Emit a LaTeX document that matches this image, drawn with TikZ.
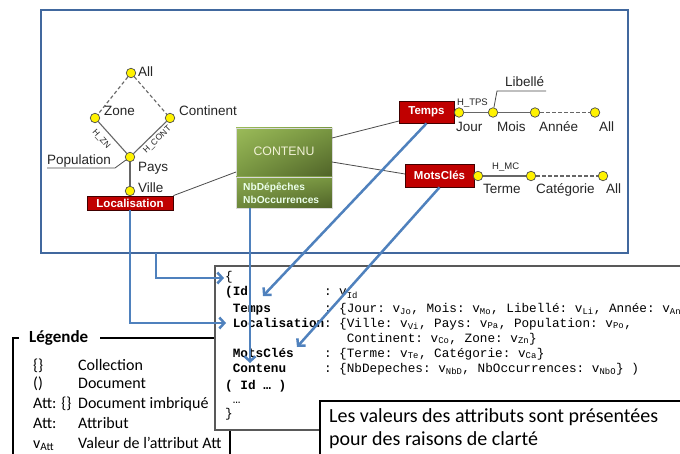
\documentclass[tikz,border=0pt]{standalone}
\usepackage{fontspec}
\setmainfont{Liberation Sans}
\setmonofont{Liberation Mono}
\newfontfamily\calib{Carlito}
\usetikzlibrary{arrows.meta,calc,shadings}
\definecolor{frameblue}{RGB}{65,104,158}
\definecolor{arrowblue}{RGB}{79,129,189}
\definecolor{boxred}{RGB}{192,0,0}
\definecolor{gA}{RGB}{155,187,89}
\definecolor{gB}{RGB}{120,150,65}
\definecolor{gC}{RGB}{79,98,40}
\newcommand\fs[1]{\fontsize{#1}{#1}\selectfont}
\newcommand\vv[1]{v\textsubscript{#1}}
\begin{document}
\begin{tikzpicture}[x=1pt,y=-1pt,
  dimbox/.style={draw=black!75!red, line width=0.8pt, fill=boxred, text=white, font=\fs{11.5}\bfseries, inner sep=0pt},
  lvl/.style={circle, draw=black!70, fill=yellow, minimum size=9.5pt, inner sep=0pt, line width=0.7pt},
  lbl/.style={font=\fs{13.5}, inner sep=0pt, anchor=base west, text=black!85},
  hier/.style={draw=black!60, line width=1.1pt},
  hdash/.style={hier, dash pattern=on 3.5pt off 2.5pt},
  tinylbl/.style={font=\fs{9.5}, inner sep=0pt, text=black!85},
  rotlbl/.style={font=\fs{8.5}, inner sep=0pt, text=black!85},
  arr/.style={draw=arrowblue, line width=2.5pt, -{Straight Barb[length=5pt,width=11pt]}},
  conn/.style={draw=black!70, line width=0.8pt},
  codek/.style={font=\ttfamily\bfseries\fs{12.7}, anchor=base west, inner sep=0pt},
  codev/.style={font=\ttfamily\fs{12.7}, anchor=base west, inner sep=0pt},
  leg/.style={font=\calib\fs{16}, anchor=base west, inner sep=0pt}
]
\useasboundingbox (0,0) rectangle (680,454);
\clip (0,0) rectangle (680,454);
\fill[white] (0,0) rectangle (680,454);

% outer frame
\draw[frameblue, line width=2pt] (41,10) rectangle (628,253);
\coordinate (fs) at (156,253);

% Localisation hierarchy
\node[lvl] (all1) at (131,73) {};
\node[lvl] (zone) at (95,118) {};
\node[lvl] (cont) at (170,118) {};
\node[lvl] (pays) at (130,157) {};
\node[lvl] (ville) at (130,191) {};
\draw[hdash] (all1) -- (zone);
\draw[hdash] (all1) -- (cont);
\draw[hier] (zone) -- (pays);
\draw[hier] (cont) -- (pays);
\draw[hier] (pays) -- (ville);
\node[lbl] (tAll1) at (138,77) {All};
\node[lbl] (tZone) at (104,116) {Zone};
\node[lbl] (tCont) at (179,116) {Continent};
\node[lbl] (tPop) at (47,165) {Population};
\node[lbl] (tPays) at (138,172) {Pays};
\node[lbl] (tVille) at (138,193) {Ville};
\coordinate (popa) at (47,168);
\coordinate (popb) at (115,168);
\draw[black!70, line width=0.8pt] (popa) -- (popb) -- (pays);
\node[rotlbl, rotate=-48] (hzn) at (101,139) {H\_ZN};
\node[rotlbl, rotate=44] (hcont) at (157.5,140) {H\_CONT};

% Localisation box
\node[dimbox, minimum width=86pt, minimum height=14pt] (loc) at (130,203) {Localisation};

% CONTENU
\shade[upper left=gA, upper right=gB, lower left=gB, lower right=gC, draw=black!15, line width=0.8pt] (236,128) rectangle (332,177);
\shade[upper left=gA!90!black, upper right=gB, lower left=gB!90!black, lower right=gC, draw=black!15, line width=0.8pt] (236,177) rectangle (332,208);
\node[inner sep=0pt, anchor=base, font=\fs{12.3}, text={rgb,255:red,242;green,242;blue,215}] (contenu) at (284,155.5) {CONTENU};
\node[inner sep=0pt, anchor=base west, font=\fs{10.2}\bfseries, text=white!92!green] (nbd) at (243,191) {NbDépêches};
\node[inner sep=0pt, anchor=base west, font=\fs{10.2}\bfseries, text=white!92!green] (nbo) at (243,204) {NbOccurrences};
\coordinate (cl) at (236,172);
\coordinate (cr1) at (332,138);
\coordinate (cr2) at (332,162);
\coordinate (cbot) at (250,208);

% Temps
\node[dimbox, minimum width=55pt, minimum height=22pt] (temps) at (426.5,112) {Temps};
\node[lvl] (jour) at (459,112.5) {};
\node[lvl] (mois) at (493,112.5) {};
\node[lvl] (annee) at (535,112.5) {};
\node[lvl] (allT) at (595,112.5) {};
\draw[hier] (jour) -- (mois);
\draw[hier] (mois) -- (annee);
\draw[hdash] (annee) -- (allT);
\node[lbl] (tJour) at (456,132) {Jour};
\node[lbl] (tMois) at (497,132) {Mois};
\node[lbl] (tAnnee) at (539,132) {Année};
\node[lbl] (tAllT) at (599,132) {All};
\node[tinylbl, anchor=base west] (htps) at (457,106) {H\_TPS};
\node[lbl] (tLib) at (505,87) {Libellé};
\coordinate (liba) at (546,91);
\coordinate (libb) at (497,91);
\draw[black!70, line width=0.8pt] (liba) -- (libb) -- (mois);

% MotsCles
\node[dimbox, minimum width=69pt, minimum height=23pt] (mots) at (439.5,175.5) {MotsClés};
\node[lvl] (terme) at (478,176) {};
\node[lvl] (categ) at (531,176) {};
\node[lvl] (allM) at (603,176) {};
\draw[hier] (terme) -- (categ);
\draw[hdash] (categ) -- (allM);
\node[lbl] (tTerme) at (483,194) {Terme};
\node[lbl] (tCateg) at (536,194) {Catégorie};
\node[lbl] (tAllM) at (606,194) {All};
\node[tinylbl, anchor=base west] (hmc) at (492,170) {H\_MC};

% grey connectors
\coordinate (tl) at (399,121);
\coordinate (ml) at (405,174);
\draw[conn] (loc.north east) -- (cl);
\draw[conn] (cr1) -- (tl);
\draw[conn] (cr2) -- (ml);

% legend
\draw[black, line width=2pt] (19,338) -- (13,338) -- (13,470);
\draw[black, line width=2pt] (100,338) -- (230,338) -- (230,470);
\node[font=\calib\fs{17}\bfseries, anchor=base west, inner sep=0pt] (legt) at (29,342) {Légende};
\node[leg] (l1a) at (33,370) {\{\}};
\node[leg] (l1b) at (78,370) {Collection};
\node[leg] (l2a) at (33,388) {()};
\node[leg] (l2b) at (78,388) {Document};
\node[leg] (l3a) at (33,408) {Att: \{\}};
\node[leg] (l3b) at (78,408) {Document imbriqué};
\node[leg] (l4a) at (33,428) {Att:};
\node[leg] (l4b) at (78,428) {Attribut};
\node[leg] (l5a) at (33,448) {v\textsubscript{Att}};
\node[leg] (l5b) at (78,448) {Valeur de l’attribut Att};

% code box
\draw[black!65, line width=1.6pt, fill=white] (215,266) rectangle (700,430);
\node[codev] (c0) at (225,281) {\{};
\node[codek] (c1k) at (225,296) {(Id};
\node[codev] (c1v) at (323.8,296) {: \vv{Id}};
\node[codek] (c2k) at (232.6,312.5) {Temps};
\node[codev] (c2v) at (323.8,312.5) {: \{Jour: \vv{Jo}, Mois: \vv{Mo}, Libellé: \vv{Li}, Année: \vv{An}\}};
\node[codek] (c3k) at (232.6,327) {Localisation};
\node[codev] (c3v) at (323.8,327) {: \{Ville: \vv{Vi}, Pays: \vv{Pa}, Population: \vv{Po},};
\node[codev] (c4v) at (346.6,342) {Continent: \vv{Co}, Zone: \vv{Zn}\}};
\node[codek] (c5k) at (232.6,357) {MotsClés};
\node[codev] (c5v) at (323.8,357) {: \{Terme: \vv{Te}, Catégorie: \vv{Ca}\}};
\node[codek] (c6k) at (232.6,372) {Contenu};
\node[codev] (c6v) at (323.8,372) {: \{NbDepeches: \vv{NbD}, NbOccurrences: \vv{NbO}\} )};
\node[codek] (c7) at (225,389) {( Id … )};
\node[codev] (c8) at (232.6,403) {…};
\node[codev] (c9) at (225,417) {\}};

% note box
\draw[black, line width=2.2pt, fill=white] (320,401) rectangle (700,470);
\node[font=\calib\fs{20}, anchor=base west, inner sep=0pt] (note1) at (329,422) {Les valeurs des attributs sont présentées};
\node[font=\calib\fs{20}, anchor=base west, inner sep=0pt] (note2) at (329,445) {pour des raisons de clarté};

% blue arrows
\coordinate (tipB) at (224,278);
\coordinate (tipL) at (226,323);
\coordinate (tipC) at (250,363);
\coordinate (tipT) at (263,296);
\coordinate (tipM) at (297,347);
\draw[arr] (fs) |- (tipB);
\draw[arr] (loc.south) |- (tipL);
\draw[arr] (cbot) -- (tipC);
\draw[arr] (temps.south) -- (tipT);
\draw[arr] (mots.south) -- (tipM);
\end{tikzpicture}
\end{document}
